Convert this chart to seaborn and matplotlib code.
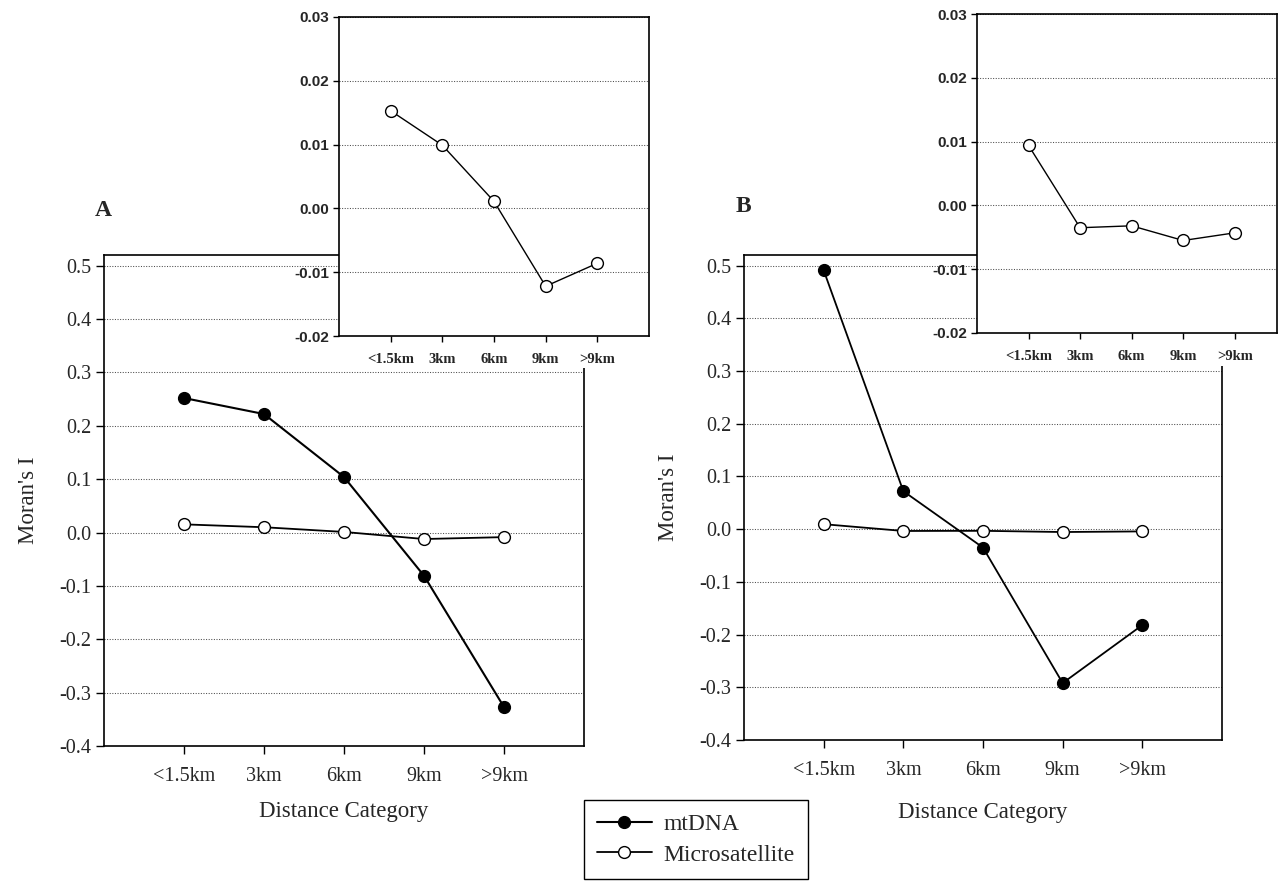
import numpy as np
import pandas as pd
import matplotlib
matplotlib.use("Agg")
import matplotlib.pyplot as plt
import seaborn as sns
from matplotlib.patches import Rectangle

# ---------------- data ----------------
categories = ["<1.5km", "3km", "6km", "9km", ">9km"]
mtdna_A = [0.252, 0.222, 0.104, -0.081, -0.327]
micro_A = [0.0153, 0.0099, 0.0011, -0.0122, -0.0086]
mtdna_B = [0.491, 0.072, -0.035, -0.292, -0.182]
micro_B = [0.0094, -0.0035, -0.0032, -0.0055, -0.0043]

main_yticks = [-0.4, -0.3, -0.2, -0.1, 0.0, 0.1, 0.2, 0.3, 0.4, 0.5]
main_yticklabels = ["-0.4", "-0.3", "-0.2", "-0.1", "0.0", "0.1", "0.2", "0.3", "0.4", "0.5"]
inset_yticks = [-0.02, -0.01, 0.0, 0.01, 0.02, 0.03]
inset_yticklabels = ["-0.02", "-0.01", "0.00", "0.01", "0.02", "0.03"]
series_names = ["mtDNA", "Microsatellite"]

# ---------------- style ----------------
sns.set_style("ticks")
plt.rcParams["font.family"] = ["Liberation Serif", "DejaVu Serif"]
plt.rcParams["axes.unicode_minus"] = False

W, H = 1278, 881
fig = plt.figure(figsize=(W / 100, H / 100), dpi=100)


def fx(px):
    return px / W


def fy(py):
    return 1 - py / H


def ax_rect(l, t, r, b):
    return [fx(l), fy(b), fx(r) - fx(l), (b - t) / H]


def draw_series(ax, values, name, filled, ms, lw):
    df = pd.DataFrame({"Distance": categories, "value": values})
    sns.lineplot(data=df, x="Distance", y="value", ax=ax, sort=False,
                 color="black", marker="o", markersize=ms, linewidth=lw,
                 markerfacecolor="black" if filled else "white",
                 markeredgecolor="black", markeredgewidth=1.0, label=name)
    if ax.get_legend() is not None:
        ax.get_legend().remove()


def style_main(ax, ylab_x):
    ax.set_xlim(-1, 5)
    ax.set_ylim(-0.4, 0.52)
    ax.set_yticks(main_yticks)
    ax.set_yticklabels(main_yticklabels)
    ax.yaxis.grid(True, linestyle=(0, (1, 1.5)), color="0.3", linewidth=0.75)
    ax.xaxis.grid(False)
    ax.set_axisbelow(True)
    for s in ax.spines.values():
        s.set_visible(True)
        s.set_color("black")
        s.set_linewidth(1.2)
    ax.tick_params(axis="x", direction="out", length=6, width=1, labelsize=14.5, pad=9, color="black")
    ax.tick_params(axis="y", direction="out", length=6, width=1, labelsize=14.5, pad=3, color="black")
    ax.set_xlabel("Distance Category", fontsize=16.5)
    ax.set_ylabel("Moran's I", fontsize=16.5)
    ax.yaxis.set_label_coords(ylab_x, 0.5)


def style_inset(ax, xmax):
    ax.set_facecolor("white")
    ax.set_xlim(-1, xmax)
    ax.set_ylim(-0.02, 0.03)
    ax.set_yticks(inset_yticks)
    ax.set_yticklabels(inset_yticklabels)
    ax.yaxis.grid(True, linestyle=(0, (1, 1.5)), color="0.3", linewidth=0.75)
    ax.xaxis.grid(False)
    ax.set_axisbelow(True)
    for s in ax.spines.values():
        s.set_visible(True)
        s.set_color("black")
        s.set_linewidth(1.2)
    ax.tick_params(axis="both", direction="out", length=4, width=1, color="black")
    ax.tick_params(axis="x", pad=8)
    ax.tick_params(axis="y", pad=3)
    for t in ax.get_xticklabels():
        t.set_fontweight("bold")
        t.set_fontsize(10.5)
    for t in ax.get_yticklabels():
        t.set_fontweight("bold")
        t.set_fontsize(11)
        t.set_family(["Liberation Sans", "DejaVu Sans"])
    ax.set_xlabel("")
    ax.set_ylabel("")


# ---------------- main panels ----------------
axA = fig.add_axes(ax_rect(104, 255, 584, 746), zorder=0)
draw_series(axA, mtdna_A, series_names[0], True, 8.5, 1.5)
draw_series(axA, micro_A, series_names[1], False, 8.5, 1.3)
style_main(axA, -0.135)
axA.xaxis.set_label_coords(0.5, -0.112)

axB = fig.add_axes(ax_rect(744, 255, 1222, 740), zorder=0)
draw_series(axB, mtdna_B, series_names[0], True, 8.5, 1.3)
draw_series(axB, micro_B, series_names[1], False, 8.5, 1.3)
style_main(axB, -0.136)
axB.xaxis.set_label_coords(0.5, -0.127)

# white backing behind the insets (covers the main frames there)
fig.patches.append(Rectangle((fx(339), fy(368)), fx(592) - fx(339), fy(0) - fy(368),
                             transform=fig.transFigure, facecolor="white",
                             edgecolor="none", zorder=1))
fig.patches.append(Rectangle((fx(977), fy(366)), fx(1278) - fx(977), fy(0) - fy(366),
                             transform=fig.transFigure, facecolor="white",
                             edgecolor="none", zorder=1))

# ---------------- insets ----------------
insA = fig.add_axes(ax_rect(339, 17, 649, 336), zorder=2)
draw_series(insA, micro_A, series_names[1], False, 8.5, 1.0)
style_inset(insA, 5.0)

insB = fig.add_axes(ax_rect(977, 14, 1277, 333), zorder=2)
draw_series(insB, micro_B, series_names[1], False, 8.5, 1.0)
style_inset(insB, 4.82)

# ---------------- panel letters ----------------
fig.text(fx(103), fy(211), "A", fontsize=17, fontweight="bold", ha="center", va="center")
fig.text(fx(743), fy(206), "B", fontsize=17, fontweight="bold", ha="center", va="center")

# ---------------- legend ----------------
handles = axA.get_lines()[:2]
leg = fig.legend(handles=handles, labels=series_names, loc="center",
                 bbox_to_anchor=(fx(696), fy(839.5)), fontsize=17,
                 frameon=True, fancybox=False, framealpha=1, edgecolor="black",
                 handlelength=2.3, handletextpad=0.5, borderpad=0.55,
                 labelspacing=0.4)
leg.get_frame().set_linewidth(1.0)
leg.set_zorder(5)

fig.savefig("out.png", dpi=100)
